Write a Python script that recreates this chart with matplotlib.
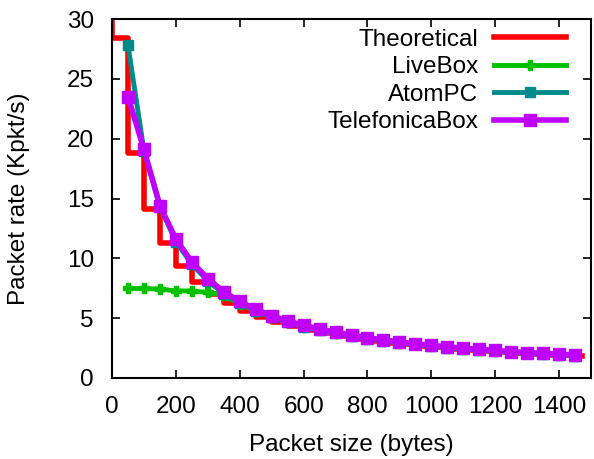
import matplotlib
matplotlib.use('Agg')
import matplotlib.pyplot as plt

# packet sizes (bytes) of the measurements
sizes = [50, 100, 150, 200, 250, 300, 350, 400, 450, 500, 550, 600, 650, 700,
         750, 800, 850, 900, 950, 1000, 1050, 1100, 1150, 1200, 1250, 1300,
         1350, 1400, 1450]

# theoretical curve (drawn as steps), extra points at 0 and 1472
theo_sizes = [0] + sizes + [1472]
theoretical = [58.0, 28.4, 18.8, 14.1, 11.3, 9.4, 8.05, 7.03, 6.25, 5.62, 5.11,
               4.68, 4.32, 4.01, 3.74, 3.51, 3.30, 3.12, 2.95, 2.81, 2.67,
               2.55, 2.44, 2.34, 2.24, 2.16, 2.08, 2.01, 1.94, 1.88, 1.82]

livebox = [7.5, 7.48, 7.43, 7.28, 7.27, 7.15, 6.9, 6.2, 5.6, 5.1, 4.67, 4.3,
           3.98, 3.72, 3.5, 3.28, 3.1, 2.94, 2.8, 2.66, 2.54, 2.43, 2.33,
           2.23, 2.15, 2.07, 2.0, 1.93, 1.87]

atompc = [27.8, 19.0, 14.3, 11.4, 9.5, 8.1, 7.05, 6.25, 5.6, 5.1, 4.67, 4.3,
          4.0, 3.72, 3.5, 3.28, 3.1, 2.94, 2.8, 2.66, 2.54, 2.43, 2.33, 2.23,
          2.15, 2.07, 2.0, 1.93, 1.87]

telefonica = [23.5, 19.1, 14.4, 11.6, 9.7, 8.3, 7.2, 6.4, 5.75, 5.2, 4.78,
              4.4, 4.1, 3.82, 3.58, 3.37, 3.18, 3.01, 2.87, 2.73, 2.61, 2.5,
              2.39, 2.3, 2.21, 2.13, 2.06, 1.99, 1.93]

xticks = [0, 200, 400, 600, 800, 1000, 1200, 1400]
yticks = [0, 5, 10, 15, 20, 25, 30]

colors = {
    'theo': '#ff0000',
    'live': '#00c000',
    'atom': '#008b8b',
    'tele': '#c000ff',
}

plt.rcParams['font.family'] = ['Liberation Sans', 'DejaVu Sans']
fs = 17.5

fig = plt.figure(figsize=(5.94, 4.59), dpi=100)
ax = fig.add_axes([0.1886, 0.1765, 0.8064, 0.782])

ax.step(theo_sizes, theoretical, where='pre', color=colors['theo'],
        linewidth=4, label='Theoretical')
ax.plot(sizes, livebox, color=colors['live'], linewidth=3.5, marker='P',
        markersize=7, label='LiveBox')
ax.plot(sizes, atompc, color=colors['atom'], linewidth=3.5, marker='s',
        markersize=7, label='AtomPC')
ax.plot(sizes, telefonica, color=colors['tele'], linewidth=4, marker='s',
        markersize=8, label='TelefonicaBox')

ax.set_xlim(0, 1500)
ax.set_ylim(0, 30)
ax.set_xticks(xticks)
ax.set_yticks(yticks)
ax.tick_params(direction='in', length=6, width=1.2, top=True, right=True,
               labelsize=fs)
ax.tick_params(axis='x', pad=13)
ax.tick_params(axis='y', pad=13)
for sp in ax.spines.values():
    sp.set_linewidth(1.5)

ax.set_xlabel('Packet size (bytes)', fontsize=fs)
ax.set_ylabel('Packet rate (Kpkt/s)', fontsize=fs)
ax.xaxis.set_label_coords(0.5, -0.157)
ax.yaxis.set_label_coords(-0.172, 0.5)

ax.legend(loc='upper right', bbox_to_anchor=(0.958, 0.986), borderaxespad=0,
          borderpad=0.2, frameon=False, markerfirst=False, fontsize=fs,
          handlelength=2.96, labelspacing=0.22, handletextpad=0.66)

fig.savefig('out.png', dpi=100)
